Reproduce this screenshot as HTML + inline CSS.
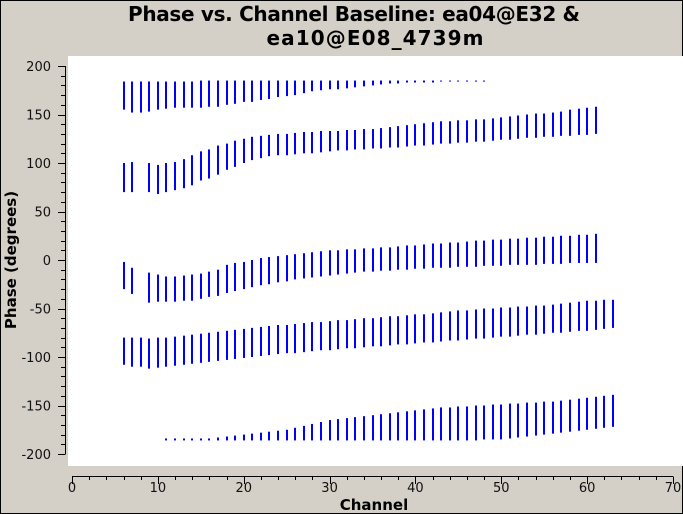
<!DOCTYPE html>
<html><head><meta charset="utf-8"><style>
html,body{margin:0;padding:0;}
body{width:683px;height:514px;overflow:hidden;background:#d4d0c8;}
svg{display:block;font-family:"DejaVu Sans","Liberation Sans",sans-serif;}
</style></head><body>
<svg id="chart" width="683" height="514" xmlns="http://www.w3.org/2000/svg">
<rect x="0.5" y="0.5" width="682" height="513" fill="#d4d0c8" stroke="#000"/>
<rect x="68" y="56" width="615" height="410" fill="#fff"/>
<text x="354" y="21" text-anchor="middle" font-size="20" font-weight="bold" textLength="452">Phase vs. Channel Baseline: ea04@E32 &amp;</text>
<text x="375" y="45" text-anchor="middle" font-size="20" font-weight="bold" textLength="217">ea10@E08_4739m</text>
<text transform="translate(16,260) rotate(-90)" text-anchor="middle" font-size="15" font-weight="bold">Phase (degrees)</text>
<text x="374" y="510" text-anchor="middle" font-size="15" font-weight="bold">Channel</text>
<g id="axes"></g>
<g id="marks"></g>
</svg>
<script>
const xTicks=[0,10,20,30,40,50,60,70];
const yTicks=[200,150,100,50,0,-50,-100,-150,-200];
// group 1 (channels 6..48)
const g1Start=6;
const g1Hi=[184,184,184,184,184,184,184,184,184,185,185,185,185,185,185,185,185,185,185,185,185,185,185,185,185,185,185,185,185,185,185,185,185,185,185,185,185,185,185,185,185,185,185];
const g1Lo=[155,152,152,153,155,156,157,157,157,157,158,158,160,161,163,163,165,166,168,169,170,172,174,175,176,176,177,178,179,180,181,182,182,183,183,183,183,184,184,184,184,184,184];
// group 2 (channels 6..61)
const g2Start=6;
const g2Hi=[100,101,null,100,98,100,101,104,108,112,114,118,120,123,125,127,128,129,130,130,131,132,132,133,133,133,134,134,135,135,136,137,138,139,140,141,142,143,143,144,144,145,145,146,147,148,149,150,151,151,152,153,155,156,157,158];
const g2Lo=[70,70,null,70,68,70,72,74,77,82,84,88,93,96,100,103,105,107,108,108,109,110,110,111,112,113,113,114,114,115,115,116,116,117,118,118,119,120,120,121,121,122,122,123,124,124,125,126,126,127,127,128,128,129,129,130];
// group 3 (channels 6..61)
const g3Start=6;
const g3Hi=[-2,-8,null,-13,-15,-17,-17,-16,-15,-14,-12,-10,-5,-3,-2,0,2,3,4,5,6,7,8,9,10,10,11,11,12,12,13,13,14,15,15,16,17,17,18,18,19,20,20,21,21,22,22,23,23,24,24,25,25,26,26,27];
const g3Lo=[-30,-35,null,-44,-43,-43,-43,-42,-42,-40,-38,-37,-34,-32,-30,-28,-26,-25,-23,-22,-20,-19,-18,-17,-16,-15,-14,-13,-12,-12,-11,-11,-10,-10,-9,-9,-8,-8,-8,-7,-7,-7,-6,-6,-6,-5,-5,-5,-5,-4,-4,-4,-3,-3,-3,-3];
// group 4 (channels 6..63)
const g4Start=6;
const g4Hi=[-80,-80,-80,-81,-80,-80,-79,-78,-77,-76,-75,-74,-73,-72,-71,-70,-69,-68,-67,-67,-66,-65,-64,-64,-63,-62,-62,-61,-60,-60,-59,-58,-58,-57,-56,-56,-55,-54,-53,-52,-52,-51,-50,-50,-49,-49,-48,-48,-47,-47,-46,-45,-44,-43,-42,-42,-41,-41];
const g4Lo=[-108,-110,-110,-112,-111,-110,-109,-108,-107,-106,-105,-104,-103,-102,-101,-100,-99,-98,-97,-96,-96,-95,-94,-93,-93,-92,-91,-91,-90,-89,-89,-88,-87,-87,-86,-85,-85,-84,-83,-83,-82,-81,-81,-80,-79,-79,-78,-77,-77,-76,-75,-75,-74,-73,-73,-72,-71,-70];
// group 5 (channels 11..63)
const g5Start=11;
const g5Hi=[-184,-184,-184,-184,-184,-184,-183,-182,-181,-180,-179,-178,-177,-176,-175,-173,-171,-169,-167,-165,-164,-163,-162,-161,-160,-159,-158,-157,-156,-155,-154,-153,-152,-152,-151,-151,-150,-150,-149,-149,-148,-148,-147,-147,-146,-146,-145,-144,-143,-142,-141,-140,-139];
const g5Lo=[-186,-186,-186,-186,-186,-186,-186,-186,-186,-186,-186,-186,-186,-186,-186,-186,-186,-186,-186,-186,-186,-186,-186,-186,-186,-186,-186,-186,-186,-186,-186,-186,-186,-186,-186,-186,-186,-185,-185,-185,-184,-183,-182,-181,-180,-179,-178,-177,-176,-175,-174,-173,-172];

const NS='http://www.w3.org/2000/svg';
function xS(c){return 72+c*(601/70);}
function yS(v){return 260-v*0.97;}
const axes=document.getElementById('axes');
const marks=document.getElementById('marks');
function mk(tag,attrs,parent){const e=document.createElementNS(NS,tag);for(const k in attrs)e.setAttribute(k,attrs[k]);parent.appendChild(e);return e;}

let yl=mk('line',{x1:65.5,y1:yS(200),x2:65.5,y2:yS(-200),stroke:'#000'},axes);


for(let v=-200;v<=200;v+=10){
  const major=v%50===0;
  const t=mk('line',{x1:major?58:61,y1:Math.round(yS(v))+0.5,x2:65.5,y2:Math.round(yS(v))+0.5,stroke:'#000'},axes);
  
  
}
yTicks.forEach(v=>{
  const t=mk('text',{x:51,y:yS(v)+5,'text-anchor':'end','font-size':13,fill:'#111'},axes);
  t.textContent=v;
  
  
});
let xl=mk('line',{x1:xS(0),y1:476.5,x2:xS(70),y2:476.5,stroke:'#000'},axes);


for(let c=0;c<=70;c+=2){
  const major=c%10===0;
  const t=mk('line',{x1:Math.round(xS(c))+0.5,y1:476.5,x2:Math.round(xS(c))+0.5,y2:major?484:480,stroke:'#000'},axes);
  
  
}
xTicks.forEach(c=>{
  const t=mk('text',{x:xS(c),y:492,'text-anchor':'middle','font-size':13,fill:'#111'},axes);
  t.textContent=c;
  
  
});
function drawGroup(start,hi,lo,name){
  const n=Math.min(hi.length,lo.length);
  for(let i=0;i<n;i++){
    if(hi[i]===null||lo[i]===null)continue;
    const c=start+i;
    const y1=yS(hi[i]),y2=yS(lo[i]);
    const r=mk('rect',{x:Math.round(xS(c))-1,y:y1,width:2,height:Math.max(1,y2-y1),fill:'#0000ff'},marks);
    
    
  }
}
drawGroup(g1Start,g1Hi,g1Lo,'phase-bar-group1');
drawGroup(g2Start,g2Hi,g2Lo,'phase-bar-group2');
drawGroup(g3Start,g3Hi,g3Lo,'phase-bar-group3');
drawGroup(g4Start,g4Hi,g4Lo,'phase-bar-group4');
drawGroup(g5Start,g5Hi,g5Lo,'phase-bar-group5');
</script>
</body></html>
